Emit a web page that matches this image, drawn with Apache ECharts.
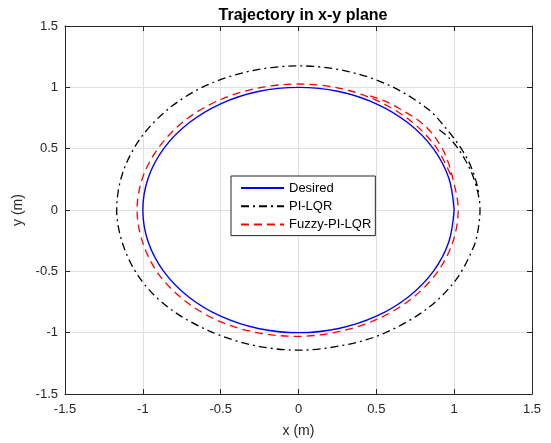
<!DOCTYPE html>
<html>
<head>
<meta charset="utf-8">
<title>Trajectory in x-y plane</title>
<script src="https://cdn.jsdelivr.net/npm/echarts@6/dist/echarts.min.js"></script>
<style>
    html, body { margin: 0; padding: 0; background: #fff; }
    #main { width: 551px; height: 443px; }
</style>
</head>
<body>
<div id="main"></div>
<script>
    // 期望轨迹 (单位圆)
    var desiredX = [1, 0.966, 0.866, 0.707, 0.5, 0.259, 0, -0.259, -0.5, -0.707, -0.866, -0.966, -1,
        -0.966, -0.866, -0.707, -0.5, -0.259, 0, 0.259, 0.5, 0.707, 0.866, 0.966, 1];
    var desiredY = [0, 0.259, 0.5, 0.707, 0.866, 0.966, 1, 0.966, 0.866, 0.707, 0.5, 0.259, 0,
        -0.259, -0.5, -0.707, -0.866, -0.966, -1, -0.966, -0.866, -0.707, -0.5, -0.259, 0];

    // PI-LQR
    var piX = [0.905, 0.965, 1.02, 1.07, 1.11, 1.14, 1.162, 1.166, 1.155, 1.127, 1.011, 0.825, 0.55, 0.30, 0,
        -0.30, -0.575, -0.82, -1.0, -1.12, -1.168, -1.13, -1.015, -0.83, -0.585, -0.30, 0, 0.30, 0.585,
        0.83, 0.945, 1.035, 1.095, 1.135, 1.158];
    var piY = [0.655, 0.59, 0.51, 0.41, 0.31, 0.20, 0.08, 0, -0.15, -0.295, -0.57, -0.806, -1.005, -1.10, -1.143,
        -1.10, -0.985, -0.81, -0.59, -0.31, 0, 0.30, 0.585, 0.83, 1.02, 1.135, 1.175, 1.135, 1.015,
        0.825, 0.67, 0.52, 0.39, 0.26, 0.14];

    // Fuzzy-PI-LQR
    var fuzzyX = [0.46, 0.57, 0.67, 0.76, 0.83, 0.89, 0.94, 0.985, 1.026, 0.99, 0.89, 0.725, 0.512, 0.265, 0,
        -0.268, -0.52, -0.735, -0.9, -1.0, -1.037, -1.0, -0.895, -0.73, -0.515, -0.266, 0, 0.266, 0.513,
        0.725, 0.885, 0.985];
    var fuzzyY = [0.93, 0.88, 0.81, 0.74, 0.665, 0.57, 0.46, 0.29, 0, -0.266, -0.51, -0.725, -0.887, -0.99, -1.03,
        -1.0, -0.9, -0.735, -0.52, -0.268, 0, 0.268, 0.515, 0.73, 0.893, 0.993, 1.027, 0.992, 0.887,
        0.722, 0.51, 0.265];

    var axisMin = -1.5;
    var axisMax = 1.5;
    var axisStep = 0.5;

    var FONT = '"Liberation Sans", Arial, Helvetica, sans-serif';
    var AXIS_COLOR = '#262626';
    var GRID_COLOR = '#e0e0e0';

    function toPairs(xs, ys) {
        var out = [];
        for (var i = 0; i < xs.length; i++) {
            out.push([xs[i], ys[i]]);
        }
        return out;
    }

    function valueAxis(pos, showLabel) {
        return {
            type: 'value',
            position: pos,
            min: axisMin,
            max: axisMax,
            interval: axisStep,
            axisLine: { show: true, onZero: false, lineStyle: { color: AXIS_COLOR, width: 1 } },
            axisTick: { show: true, inside: true, length: 5, lineStyle: { color: AXIS_COLOR } },
            axisLabel: {
                show: showLabel,
                color: AXIS_COLOR,
                fontFamily: FONT,
                fontSize: 13,
                margin: 9
            },
            splitLine: { show: showLabel, lineStyle: { color: GRID_COLOR, width: 1 } }
        };
    }

    var chart = echarts.init(document.getElementById('main'), null, { renderer: 'canvas' });

    var xMain = valueAxis('bottom', true);
    xMain.name = 'x (m)';
    xMain.nameLocation = 'middle';
    xMain.nameGap = 30;
    xMain.nameTextStyle = { color: AXIS_COLOR, fontFamily: FONT, fontSize: 14 };

    var yMain = valueAxis('left', true);
    yMain.name = 'y (m)';
    yMain.nameLocation = 'middle';
    yMain.nameGap = 32;
    yMain.nameTextStyle = { color: AXIS_COLOR, fontFamily: FONT, fontSize: 14 };
    yMain.axisLabel.margin = 7;

    // 曲线平滑系数 (0.33 约等于 Catmull-Rom)
    var SMOOTH = 0.33;

    var option = {
        animation: false,
        backgroundColor: '#fff',
        title: {
            text: 'Trajectory in x-y plane',
            left: 298,
            top: 3,
            textAlign: 'center',
            textStyle: { color: '#000', fontFamily: FONT, fontSize: 16, fontWeight: 'bold' }
        },
        grid: { left: 65, right: 19, top: 26, bottom: 49, containLabel: false },
        legend: {
            data: ['Desired', 'PI-LQR', 'Fuzzy-PI-LQR'],
            orient: 'vertical',
            left: 231,
            top: 176,
            itemWidth: 43,
            itemHeight: 10,
            itemGap: 4.3,
            padding: [5, 4, 4, 9],
            borderColor: AXIS_COLOR,
            borderWidth: 1,
            borderRadius: 0,
            backgroundColor: '#fff',
            itemStyle: { opacity: 0 },
            textStyle: { color: '#000', fontFamily: FONT, fontSize: 13, lineHeight: 14 }
        },
        xAxis: [xMain, valueAxis('top', false)],
        yAxis: [yMain, valueAxis('right', false)],
        series: [
            {
                name: 'Desired',
                type: 'line',
                data: toPairs(desiredX, desiredY),
                symbol: 'none',
                smooth: SMOOTH,
                lineStyle: { color: '#0000ff', width: 1.4 },
                itemStyle: { color: '#0000ff' }
            },
            {
                name: 'PI-LQR',
                type: 'line',
                data: toPairs(piX, piY),
                symbol: 'none',
                smooth: SMOOTH,
                lineStyle: { color: '#000', width: 1.3, type: [8, 4, 2, 4] },
                itemStyle: { color: '#000' }
            },
            {
                name: 'Fuzzy-PI-LQR',
                type: 'line',
                data: toPairs(fuzzyX, fuzzyY),
                symbol: 'none',
                smooth: SMOOTH,
                lineStyle: { color: '#ff0000', width: 1.3, type: [8, 5] },
                itemStyle: { color: '#ff0000' }
            }
        ]
    };

    chart.setOption(option);
</script>
</body>
</html>
